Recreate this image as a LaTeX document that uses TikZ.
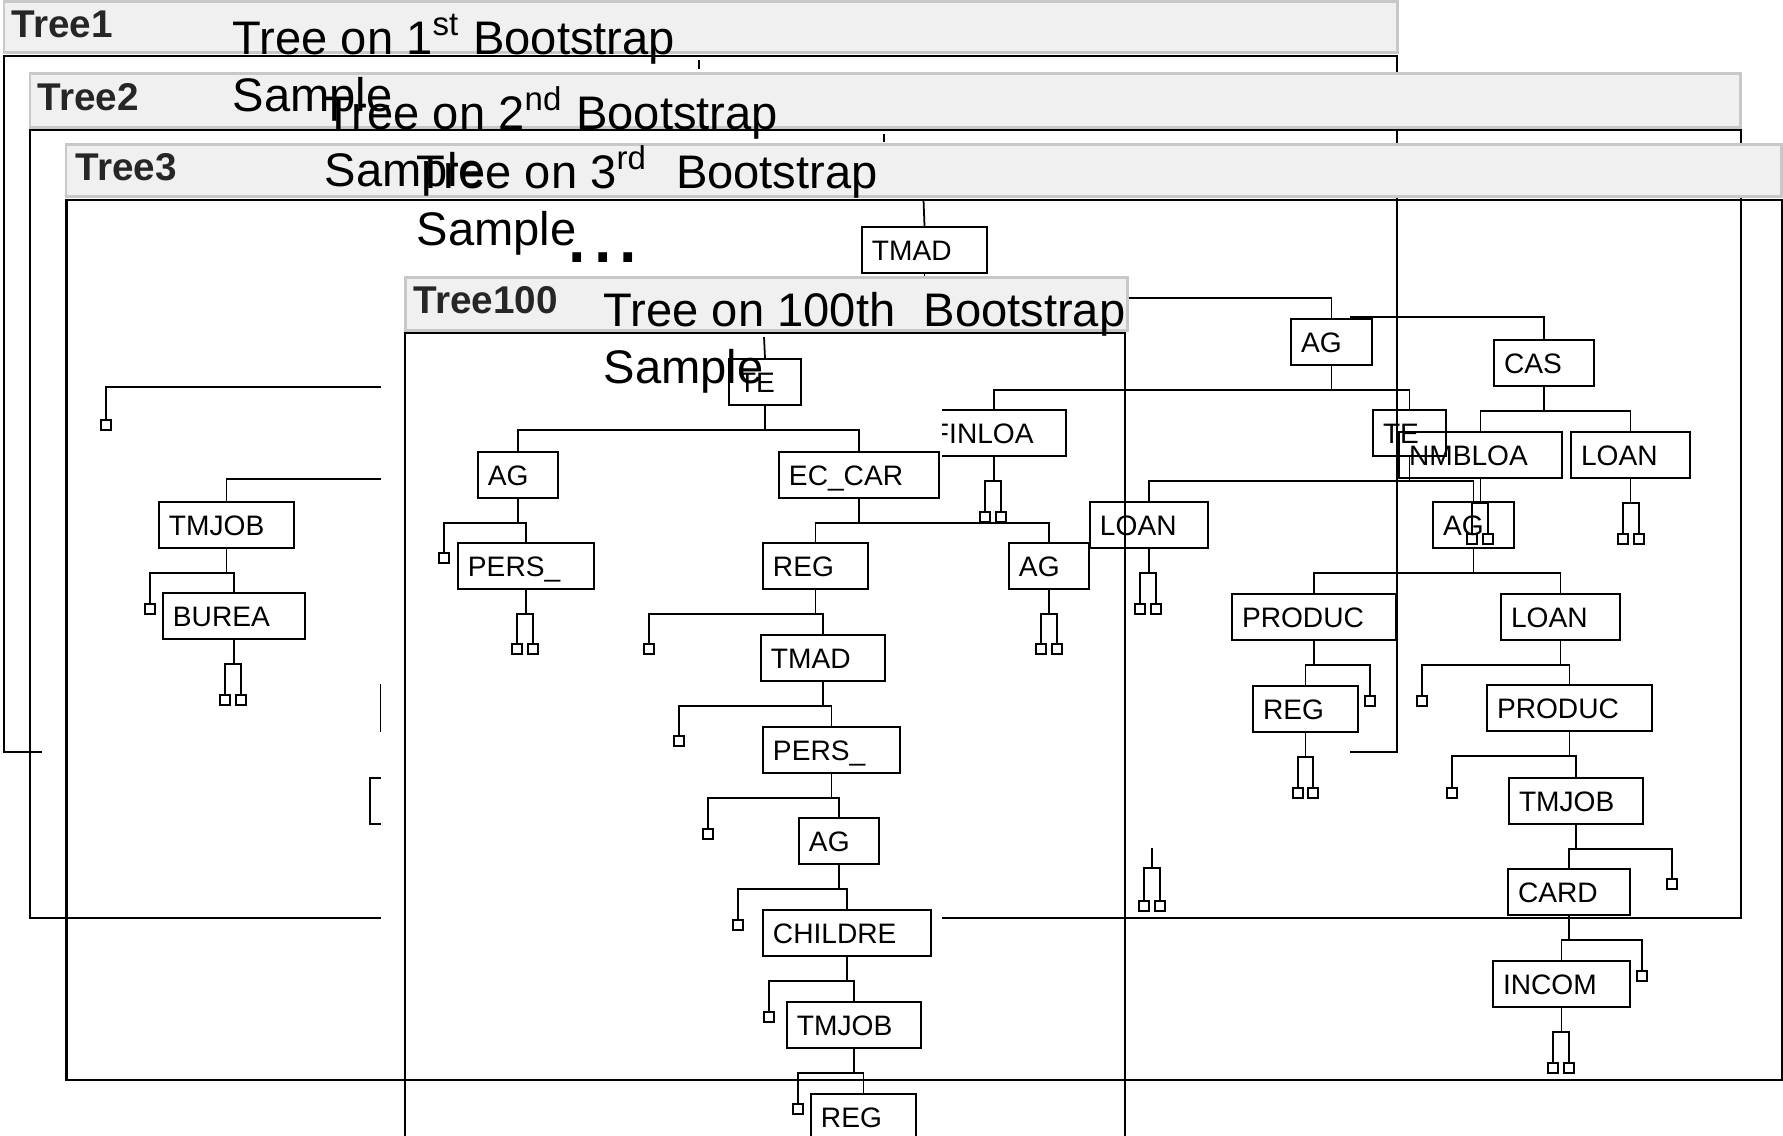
\documentclass[tikz,border=0pt]{standalone}
\usepackage{fontspec}
\setmainfont{Liberation Sans}
\usetikzlibrary{calc}
\definecolor{headfill}{HTML}{F0F0F0}
\definecolor{headline}{HTML}{C8C8C8}
\definecolor{tagtext}{HTML}{262626}

\begin{document}
\begin{tikzpicture}[x=0.01cm,y=-0.01cm,
    frame/.style={line width=0.7pt},
    header/.style={fill=headfill,draw=headline,line width=0.85pt},
    tbox/.style={draw,line width=0.55pt,anchor=north west,minimum height=0.46cm,inner xsep=0.1cm,inner ysep=0pt,
      text height=5.8pt,text depth=0pt,align=left,font=\fontsize{8}{9.6}\selectfont},
    leaf/.style={draw,line width=0.5pt,minimum size=0.1cm,inner sep=0pt,anchor=north},
    link/.style={line width=0.5pt},
    tag/.style={anchor=base west,inner sep=0pt,text=tagtext,font=\bfseries\fontsize{11}{13}\selectfont},
    title/.style={anchor=base west,inner sep=0pt,align=left,font=\fontsize{13.4}{16.2}\selectfont}]
  \useasboundingbox (0,0) rectangle (1783,1135);

  % Tree1
  \draw[frame] (42,752) -- (4,752) -- (4,56) -- (1397,56) -- (1397,752) -- (1350,752);
  \draw[header] (4,1) rectangle (1397,52);
  \coordinate (t1root) at (699,60);
  \draw[link] (t1root) -- ++(0,9);

  % Tree2
  \draw[frame] (30,130) rectangle (1741,918);
  \draw[header] (30,73) rectangle (1740,127);
  \coordinate (t2root) at (884,134);
  \draw[link] (t2root) -- ++(0,8);

  % Tree3
  \draw[frame] (66.5,200) rectangle (1782,1080);
  \draw[header] (66,144) rectangle (1781,196);
  \foreach \n/\x/\y/\w/\t in {t3tmad/861/226/125/TMAD, t3ag/1290/318/81/AG, t3cas/1493/339/100/CAS,
      t3finloa/921/409/144/FINLOA, t3te/1372/409/73/TE, t3nmbloa/1398/431/163/NMBLOA, t3loanb/1570/431/119/LOAN,
      t3loana/1089/501/118/LOAN, t3agb/1432/501/81/AG, t3produc/1231/593/164/PRODUC, t3loanc/1500/593/119/LOAN,
      t3reg/1252/685/105/REG, t3producb/1486/684/165/PRODUC, t3tmjobb/1508/777/134/TMJOB, t3card/1507/868/122/CARD,
      t3incom/1492/960/137/INCOM, t3tmjob/158/501/135/TMJOB, t3burea/162/592/142/BUREA}
    {\pgfmathsetmacro\tw{(\w-20)/100}
     \node[tbox,text width=\tw cm] (\n) at (\x,\y) {\t};}
  \node[tbox,text width=1cm] (t3hida) at (380,684) {};
  \node[tbox,text width=1cm] (t3hidb) at (369,777) {};
  \foreach \n/\x/\y in {la/106/419, lb/150/603, lc/225/694, ld/241/694, le/985/511, lf/1001/511,
      lg/1472/533, lh/1488/533, li/1623/533, lj/1639/533, lk/1140/603, ll/1156/603, lm/1370/695,
      ln/1298/787, lo/1313/787, lp/1422/695, lq/1452/787, lr/1672/878, ls/1642/970,
      lt/1553/1062, lu/1569/1062, lv/1144/900, lw/1160/900}
    \node[leaf] (\n) at (\x,\y) {};
  \coordinate (t3root) at (923.5,200);
  \coordinate (t3h1) at (470,387);
  \coordinate (t3h2) at (470,479);
  \coordinate (t3h3) at (1350,317);
  \coordinate (t3h4) at (1152,848);
  \draw[link] (t3root) -- (t3tmad.north);
  \draw[link] (t3h1) -| (la.north);
  \draw[link] (t3h2) -| (t3tmjob.north);
  \draw[link] (t3h3) -| (t3cas.north);
  \draw[link] (t3h4) -- ++(0,20) -| (lv.north);
  \draw[link] (t3h4) -- ++(0,20) -| (lw.north);
  \foreach \p/\c in {t3tmad/t3ag, t3ag/t3finloa, t3ag/t3te, t3cas/t3nmbloa, t3cas/t3loanb,
      t3te/t3loana, t3te/t3agb, t3agb/t3produc, t3agb/t3loanc, t3produc/t3reg, t3produc/lm,
      t3loanc/lp, t3loanc/t3producb, t3producb/lq, t3producb/t3tmjobb, t3tmjobb/t3card, t3tmjobb/lr,
      t3card/t3incom, t3card/ls, t3incom/lt, t3incom/lu, t3reg/ln, t3reg/lo, t3nmbloa/lg, t3nmbloa/lh,
      t3loanb/li, t3loanb/lj, t3loana/lk, t3loana/ll, t3finloa/le, t3finloa/lf,
      t3tmjob/lb, t3tmjob/t3burea, t3burea/lc, t3burea/ld}
    \draw[link] (\p.south) -- ++(0,24) -| (\c.north);

  % Tree100
  \fill[white] (381,331) rectangle (942,1140);
  \draw[frame] (405,1140) -- (405,333) -- (1125,333) -- (1125,1140);
  \draw[header] (405,277) rectangle (1127,330);
  \draw[frame] (66.5,1080) -- (1782,1080);
  \foreach \n/\x/\y/\w/\t in {hte/728/358/72/TE, hag/477/451/80/AG, hec/778/451/160/EC\_CAR,
      hpers/457/542/136/PERS\_, hreg/762/542/105/REG, hagb/1008/542/80/AG, htmad/760/634/124/TMAD,
      hpersb/762/726/137/PERS\_, hagc/798/817/80/AG, hchild/762/909/168/CHILDRE,
      htmjob/786/1001/134/TMJOB, hregb/810/1093/105/REG}
    {\pgfmathsetmacro\tw{(\w-20)/100}
     \node[tbox,text width=\tw cm] (\n) at (\x,\y) {\t};}
  \foreach \n/\x/\y in {ha/444/552, hb/517/643, hc/533/643, hd/1041/643, he/1057/643,
      hf/649/643, hg/679/735, hh/708/828, hi/738/919, hj/769/1011, hk/798/1103}
    \node[leaf] (\n) at (\x,\y) {};
  \coordinate (hroot) at (764,337);
  \draw[link] (hroot) -- (hte.north);
  \foreach \p/\c in {hte/hag, hte/hec, hag/ha, hag/hpers, hpers/hb, hpers/hc, hec/hreg, hec/hagb,
      hagb/hd, hagb/he, hreg/hf, hreg/htmad, htmad/hg, htmad/hpersb, hpersb/hh, hpersb/hagc,
      hagc/hi, hagc/hchild, hchild/hj, hchild/htmjob, htmjob/hk, htmjob/hregb}
    \draw[link] (\p.south) -- ++(0,24) -| (\c.north);

  % titles
  \node[tag] (t1tag) at (11,37) {Tree1};
  \node[tag] (t2tag) at (37,110) {Tree2};
  \node[tag] (t3tag) at (75,180) {Tree3};
  \node[tag] (t100tag) at (413,313) {Tree100};
  \node[title] (t1title) at (232,111) {Tree on 1\textsuperscript{st} Bootstrap\\Sample};
  \node[title] (t2title) at (324,186) {Tree on 2\textsuperscript{nd} Bootstrap\\Sample};
  \node[title] (t3title) at (416,245) {Tree on 3\textsuperscript{rd}\hspace{0.6em}Bootstrap\\Sample};
  \node[title] (t100title) at (603,383) {Tree on 100th\hspace{0.6em}Bootstrap\\Sample};
  \node[anchor=base west,inner sep=0pt,font=\fontsize{26}{30}\selectfont] (dots) at (564,262) {...};
\end{tikzpicture}
\end{document}
